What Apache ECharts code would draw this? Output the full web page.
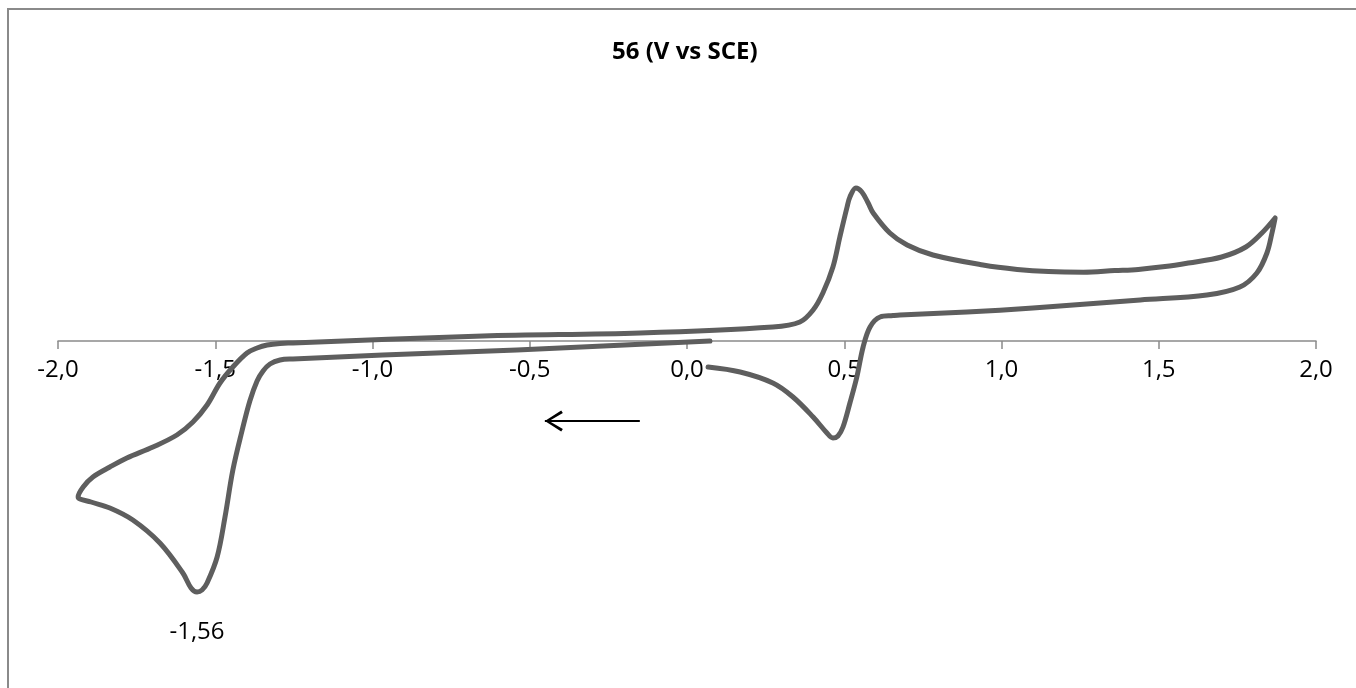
<!DOCTYPE html>
<html>
<head>
<meta charset="utf-8">
<script src="https://cdn.jsdelivr.net/npm/echarts@6/dist/echarts.min.js"></script>
<style>
  html, body { margin: 0; padding: 0; background: #fff; overflow: hidden; }
  #frame { position: absolute; left: 7px; top: 8px; width: 1400px; height: 800px; border: 2px solid #8a8a8a; box-sizing: border-box; }
  #chart { position: absolute; left: 0; top: 0; width: 1356px; height: 688px; }
</style>
</head>
<body>
<div id="frame"></div>
<div id="chart"></div>
<script>
// Potential (V vs SCE) and current (arbitrary units), in scan order
const potential = [
  0.073, -0.541, -0.967, -1.253, -1.294, -1.326, -1.348, -1.367, -1.390, -1.415,
  -1.444, -1.469, -1.494, -1.526, -1.542, -1.558, -1.577, -1.603, -1.676, -1.762,
  -1.835, -1.895, -1.936, -1.920, -1.889, -1.835, -1.781, -1.698, -1.622, -1.571,
  -1.526, -1.485, -1.444, -1.399, -1.367, -1.335, -1.294, -1.253, -0.649, -0.149,
  0.273, 0.359, 0.401, 0.432, 0.464, 0.486, 0.509, 0.518, 0.537, 0.556,
  0.576, 0.592, 0.645, 0.700, 0.782, 0.941, 1.050, 1.150, 1.260, 1.360,
  1.435, 1.520, 1.594, 1.700, 1.777, 1.828, 1.870, 1.860, 1.844, 1.812,
  1.758, 1.653, 1.441, 1.100, 0.890, 0.677, 0.655, 0.614, 0.582, 0.560,
  0.540, 0.518, 0.496, 0.480, 0.464, 0.445, 0.401, 0.337, 0.273, 0.169,
  0.067
];
const current = [
  0.00, -0.45, -0.70, -0.90, -0.95, -1.15, -1.50, -2.00, -3.00, -4.50,
  -6.45, -8.80, -10.80, -12.10, -12.45, -12.55, -12.35, -11.60, -10.10, -8.95,
  -8.35, -8.05, -7.80, -7.30, -6.80, -6.30, -5.85, -5.30, -4.70, -4.05,
  -3.20, -2.10, -1.30, -0.60, -0.35, -0.20, -0.12, -0.10, 0.25, 0.40,
  0.70, 0.95, 1.55, 2.40, 3.70, 5.20, 6.70, 7.20, 7.65, 7.45,
  6.90, 6.40, 5.40, 4.80, 4.30, 3.80, 3.58, 3.47, 3.44, 3.52,
  3.58, 3.72, 3.90, 4.20, 4.70, 5.40, 6.15, 5.40, 4.40, 3.40,
  2.70, 2.30, 2.05, 1.65, 1.45, 1.30, 1.27, 1.20, 0.70, -0.30,
  -1.80, -3.10, -4.30, -4.75, -4.85, -4.60, -3.80, -2.80, -2.10, -1.55,
  -1.30
];
const xTicks = [-2.0, -1.5, -1.0, -0.5, 0.0, 0.5, 1.0, 1.5, 2.0];
const peakLabel = { potential: -1.558, current: -12.55, text: '-1,56' };
const scanArrow = [[-0.15, -4.0], [-0.452, -4.0]];
const titleText = '56 (V vs SCE)';

const seriesData = potential.map((p, i) => [p, current[i]]);
const chevron = 'path://M0,10 L16,0 L17.6,2.4 L4.2,10 L17.6,17.6 L16,20 Z';

const chart = echarts.init(document.getElementById('chart'), null, { renderer: 'canvas' });
chart.setOption({
  animation: false,
  backgroundColor: 'transparent',
  title: {
    text: titleText,
    left: 612,
    top: 40,
    padding: 0,
    textStyle: { fontFamily: 'Open Sans', fontWeight: 'bold', fontSize: 24, color: '#000' }
  },
  // plot area: top edge = 12 units, bottom edge = 0 (x axis); lower part drawn unclipped
  grid: { left: 58, right: 40, top: 101, bottom: 347, containLabel: false, outerBoundsMode: 'none' },
  xAxis: {
    type: 'value',
    min: xTicks[0],
    max: xTicks[xTicks.length - 1],
    interval: 0.5,
    axisLine: { onZero: false, lineStyle: { color: '#8a8a8a', width: 1.5 } },
    axisTick: { show: true, length: 8, lineStyle: { color: '#8a8a8a', width: 1.5 } },
    axisLabel: {
      margin: 17,
      fontFamily: 'Open Sans',
      fontSize: 24,
      color: '#000',
      formatter: v => v.toFixed(1).replace('.', ',')
    },
    splitLine: { show: false }
  },
  yAxis: {
    type: 'value',
    min: 0,
    max: 12,
    show: false,
    splitLine: { show: false }
  },
  series: [
    {
      type: 'line',
      data: seriesData,
      clip: false,
      showSymbol: false,
      smooth: 0.35,
      lineStyle: { color: '#5e5e5e', width: 5, cap: 'round', join: 'round' }
    },
    {
      type: 'scatter',
      clip: false,
      symbolSize: 0,
      silent: true,
      itemStyle: { opacity: 1 },
      data: [[peakLabel.potential, peakLabel.current]],
      label: {
        show: true,
        formatter: peakLabel.text,
        position: 'bottom',
        distance: 28,
        fontFamily: 'Open Sans',
        fontSize: 24,
        color: '#000',
        opacity: 1
      }
    },
    {
      type: 'line',
      clip: false,
      silent: true,
      showSymbol: true,
      showAllSymbol: true,
      lineStyle: { color: '#000', width: 2 },
      itemStyle: { color: '#000' },
      data: [
        { value: scanArrow[0], symbol: 'none' },
        { value: scanArrow[1], symbol: chevron, symbolSize: [18, 21], symbolOffset: [9, 0] }
      ]
    }
  ]
});
</script>
</body>
</html>
